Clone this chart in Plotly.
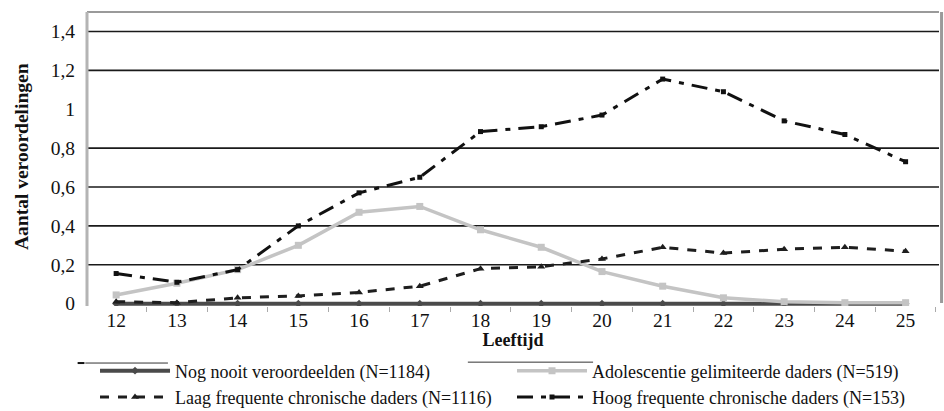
import plotly.graph_objects as go

ages = ["12", "13", "14", "15", "16", "17", "18", "19", "20", "21", "22", "23", "24", "25"]

nog_nooit = [0, 0, 0, 0, 0, 0, 0, 0, 0, 0, 0, 0, 0, 0]
adolescentie = [0.045, 0.105, 0.175, 0.30, 0.47, 0.50, 0.38, 0.29, 0.165, 0.09, 0.03, 0.01, 0.005, 0.005]
laag = [0.01, 0.005, 0.03, 0.04, 0.058, 0.09, 0.18, 0.19, 0.23, 0.29, 0.26, 0.28, 0.29, 0.27]
hoog = [0.155, 0.11, 0.175, 0.40, 0.57, 0.65, 0.885, 0.91, 0.97, 1.155, 1.09, 0.94, 0.87, 0.73]

series_names = [
    "Nog nooit veroordeelden (N=1184)",
    "Adolescentie gelimiteerde daders (N=519)",
    "Laag frequente chronische daders (N=1116)",
    "Hoog frequente chronische daders (N=153)",
]

y_tickvals = [0, 0.2, 0.4, 0.6, 0.8, 1.0, 1.2, 1.4]
y_ticktext = ["0", "0,2", "0,4", "0,6", "0,8", "1", "1,2", "1,4"]
grid_vals = [0.2, 0.4, 0.6, 0.8, 1.2, 1.4]

FONT = "Liberation Serif, Times New Roman, DejaVu Serif, serif"

fig = go.Figure()

fig.add_trace(go.Scatter(
    x=ages, y=nog_nooit, name=series_names[0], mode="lines+markers",
    line=dict(color="#4a4a4a", width=4),
    marker=dict(symbol="diamond", size=6, color="#4a4a4a"),
))
fig.add_trace(go.Scatter(
    x=ages, y=adolescentie, name=series_names[1], mode="lines+markers",
    line=dict(color="#c4c4c4", width=3.5),
    marker=dict(symbol="square", size=7, color="#c4c4c4"),
))
fig.add_trace(go.Scatter(
    x=ages, y=laag, name=series_names[2], mode="lines+markers",
    line=dict(color="#1e1e1e", width=3, dash="9px,9px"),
    marker=dict(symbol="triangle-up", size=7, color="#1e1e1e"),
))
fig.add_trace(go.Scatter(
    x=ages, y=hoog, name=series_names[3], mode="lines+markers",
    line=dict(color="#111111", width=3, dash="16px,8px,5px,8px"),
    marker=dict(symbol="square", size=5, color="#111111"),
))

shapes = []
for g in grid_vals:
    shapes.append(dict(type="line", xref="paper", yref="y", x0=0, x1=1, y0=g, y1=g,
                       line=dict(color="#1a1a1a", width=1.6), layer="below"))
# plot border
shapes.append(dict(type="line", xref="paper", yref="paper", x0=0, x1=1, y0=1, y1=1,
                   line=dict(color="#9a9a9a", width=2)))
shapes.append(dict(type="line", xref="paper", yref="paper", x0=1.003, x1=1.003, y0=0.01, y1=1,
                   line=dict(color="#9a9a9a", width=3)))
shapes.append(dict(type="line", xref="paper", yref="paper", x0=0, x1=0, y0=0, y1=1,
                   line=dict(color="#b4b4b4", width=3)))
# legend top fragments
shapes.append(dict(type="line", xref="paper", yref="paper", x0=-0.002, x1=0.095, y0=-0.194, y1=-0.194,
                   line=dict(color="#333333", width=1)))
shapes.append(dict(type="line", xref="paper", yref="paper", x0=-0.011, x1=-0.003, y0=-0.194, y1=-0.194,
                   line=dict(color="#111111", width=2)))
shapes.append(dict(type="line", xref="paper", yref="paper", x0=0.447, x1=0.594, y0=-0.191, y1=-0.191,
                   line=dict(color="#333333", width=1)))

fig.update_layout(
    width=944, height=411,
    margin=dict(l=87, r=5, t=12, b=105, autoexpand=False),
    paper_bgcolor="white", plot_bgcolor="white",
    font=dict(family=FONT, color="#111111", size=17),
    showlegend=True,
    legend=dict(
        orientation="h", x=0.0094, xanchor="left", y=-0.158, yanchor="top",
        entrywidth=332, entrywidthmode="pixels", itemwidth=70,
        font=dict(family=FONT, size=18, color="#111111"),
        tracegroupgap=0, bgcolor="rgba(0,0,0,0)",
        itemclick=False,
    ),
    xaxis=dict(
        type="category", range=[-0.48, 13.55],
        showgrid=False, showline=False, zeroline=False,
        ticks="outside", tickson="boundaries", ticklen=5, tickcolor="#aaaaaa",
        tickfont=dict(family=FONT, size=19.5, color="#111111"),
        title=dict(text="<b>Leeftijd</b>", font=dict(family=FONT, size=18), standoff=2),
    ),
    yaxis=dict(
        range=[-0.012, 1.5], tickvals=y_tickvals, ticktext=y_ticktext,
        showgrid=False, showline=False, zeroline=False,
        ticks="outside", ticklen=7, tickcolor="rgba(0,0,0,0)",
        tickfont=dict(family=FONT, size=19.5, color="#111111"),
    ),
    annotations=[dict(
        text="<b>Aantal veroordelingen</b>", textangle=-90,
        xref="paper", yref="paper", x=-0.0775, y=0.51,
        xanchor="center", yanchor="middle", showarrow=False,
        font=dict(family=FONT, size=19.5, color="#111111"),
    )],
    shapes=shapes,
)

fig.write_html("out.html", post_script="document.body.style.margin='0';",
               config={"displayModeBar": False})
